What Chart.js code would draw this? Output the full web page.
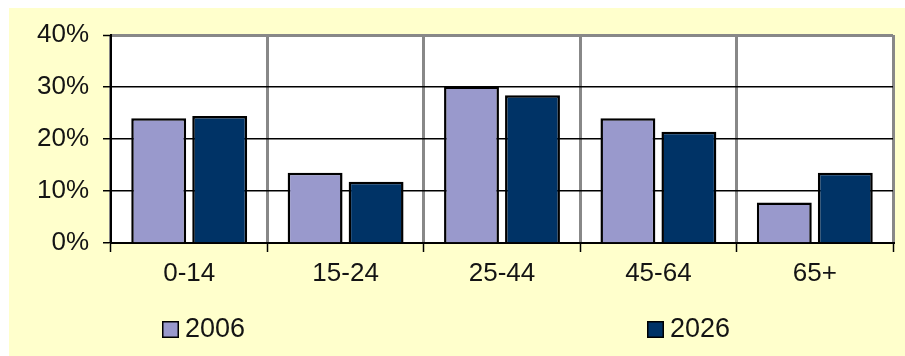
<!DOCTYPE html>
<html>
<head>
<meta charset="utf-8">
<script src="https://cdn.jsdelivr.net/npm/chart.js@4/dist/chart.umd.min.js"></script>
<style>
  html, body { margin: 0; padding: 0; background: #ffffff; }
  #wrap { width: 905px; height: 356px; position: relative; }
</style>
</head>
<body>
<div id="wrap"><canvas id="c" width="905" height="356"></canvas></div>
<script>
// Age groups and the share of population in each, 2006 vs 2026 (percent)
const categories = ['0-14', '15-24', '25-44', '45-64', '65+'];
const share2006 = [24.0, 13.5, 30.1, 24.0, 7.8];
const share2026 = [24.4, 11.8, 28.4, 21.4, 13.5];
const seriesLabels = ['2006', '2026'];
const yTicks = [0, 10, 20, 30, 40];

const FONT = '"Liberation Sans", Arial, sans-serif';
const TEXT = '#141414';
const LAVENDER = '#9999cc';
const NAVY = '#003366';

// Paints the pale yellow panel and the white plot area behind everything
const panelPlugin = {
  id: 'panel',
  beforeDraw(chart) {
    const { ctx, chartArea: a } = chart;
    ctx.save();
    ctx.fillStyle = '#ffffcc';
    ctx.fillRect(9, 8, chart.width - 9, chart.height - 8);
    ctx.fillStyle = '#ffffff';
    ctx.fillRect(a.left, a.top, a.right - a.left, a.bottom - a.top);
    ctx.restore();
  }
};

// Two-item legend spread across the bottom of the panel
const legendPlugin = {
  id: 'spreadLegend',
  afterDraw(chart) {
    const { ctx } = chart;
    const xs = [162, 647];
    const y = 321;
    ctx.save();
    chart.data.datasets.forEach((ds, i) => {
      ctx.fillStyle = ds.backgroundColor;
      ctx.fillRect(xs[i], y, 17, 17);
      ctx.strokeStyle = '#000000';
      ctx.lineWidth = 1.5;
      ctx.strokeRect(xs[i] + 0.75, y + 0.75, 15.5, 15.5);
      ctx.fillStyle = TEXT;
      ctx.font = '27px ' + FONT;
      ctx.textBaseline = 'middle';
      ctx.textAlign = 'left';
      ctx.fillText(ds.label, xs[i] + 23, y + 9);
    });
    ctx.restore();
  }
};

new Chart(document.getElementById('c'), {
  type: 'bar',
  data: {
    labels: categories,
    datasets: [
      {
        label: seriesLabels[0],
        data: share2006,
        backgroundColor: LAVENDER,
        borderColor: '#000000',
        borderWidth: 2.5,
        categoryPercentage: 0.78,
        barPercentage: 0.9
      },
      {
        label: seriesLabels[1],
        data: share2026,
        backgroundColor: NAVY,
        borderColor: '#000000',
        borderWidth: 2.5,
        categoryPercentage: 0.78,
        barPercentage: 0.9
      }
    ]
  },
  options: {
    responsive: false,
    animation: false,
    devicePixelRatio: 1,
    layout: { padding: { left: 0, top: 35, right: 12, bottom: 53 } },
    plugins: {
      legend: { display: false },
      title: { display: false },
      tooltip: { enabled: false }
    },
    scales: {
      x: {
        afterFit(scale) { scale.height = 60; },
        grid: {
          offset: true,
          color: '#888888',
          lineWidth: 3,
          tickColor: '#000000',
          tickWidth: 1.5,
          tickLength: 9
        },
        border: { display: true, color: '#000000', width: 2 },
        ticks: {
          color: TEXT,
          font: { family: FONT, size: 26 },
          padding: 6,
          maxRotation: 0
        }
      },
      y: {
        min: 0,
        max: 40,
        afterFit(scale) { scale.width = 111; },
        afterBuildTicks(scale) { scale.ticks = yTicks.map(v => ({ value: v })); },
        grid: {
          color: ctx => (ctx.tick && ctx.tick.value === 40 ? '#888888' : '#000000'),
          lineWidth: ctx => (ctx.tick && ctx.tick.value === 40 ? 3 : 1.5),
          tickColor: '#000000',
          tickWidth: 1.5,
          tickLength: 8
        },
        border: { display: true, color: '#000000', width: 2 },
        ticks: {
          color: TEXT,
          font: { family: FONT, size: 26 },
          padding: 14,
          callback: v => v + '%'
        }
      }
    }
  },
  plugins: [panelPlugin, legendPlugin]
});
</script>
</body>
</html>
